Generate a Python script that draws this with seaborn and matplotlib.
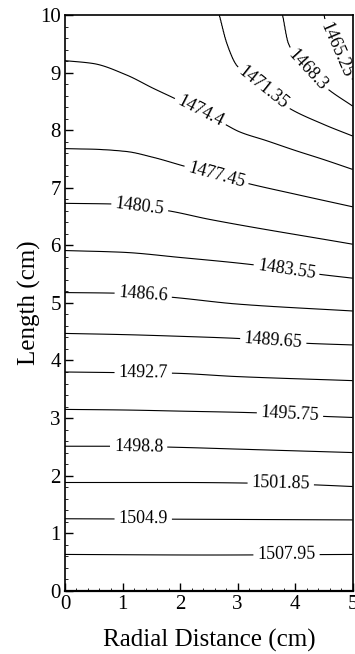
import numpy as np
import matplotlib
matplotlib.use("Agg")
import matplotlib.pyplot as plt
from matplotlib.ticker import MultipleLocator
import seaborn as sns

# ---- data ----
levels = [1465.25, 1468.3, 1471.35, 1474.4, 1477.45, 1480.5, 1483.55, 1486.6,
          1489.65, 1492.7, 1495.75, 1498.8, 1501.85, 1504.9, 1507.95]

# contour traces (radial distance x, length y) for each level
c1465_x = [4.50, 4.55, 4.69, 4.92, 5.0]
c1465_y = [10.0, 9.80, 9.45, 8.96, 8.88]
c1468_x = [3.78, 3.88, 4.20, 4.55, 5.0]
c1468_y = [10.0, 9.51, 9.07, 8.73, 8.42]
c1471_x = [2.68, 2.81, 2.98, 3.45, 3.85, 4.5, 5.0]
c1471_y = [10.0, 9.51, 9.13, 8.73, 8.41, 8.10, 7.90]
c1474_x = [0, 0.49, 1.07, 1.53, 1.91, 2.75, 3.04, 3.5, 4, 4.5, 5]
c1474_y = [9.21, 9.16, 8.96, 8.73, 8.55, 8.12, 7.97, 7.82, 7.65, 7.49, 7.32]
c1477_x = [0, 0.49, 1.07, 1.53, 2.06, 3.16, 4, 5]
c1477_y = [7.68, 7.67, 7.63, 7.53, 7.38, 7.08, 6.89, 6.67]
c1480_x = [0, 0.78, 1.74, 2.52, 5]
c1480_y = [6.73, 6.72, 6.61, 6.45, 6.02]
c1483_x = [0, 1, 2, 3.30, 4.40, 5]
c1483_y = [5.91, 5.88, 5.79, 5.66, 5.50, 5.43]
c1486_x = [0, 0.88, 1.84, 3, 5]
c1486_y = [5.18, 5.17, 5.10, 4.98, 4.86]
c1489_x = [0, 1, 2, 3.07, 4.17, 5]
c1489_y = [4.47, 4.45, 4.42, 4.38, 4.30, 4.27]
c1492_x = [0, 0.88, 1.84, 3, 5]
c1492_y = [3.80, 3.79, 3.78, 3.72, 3.65]
c1495_x = [0, 1, 2, 3.36, 4.46, 5]
c1495_y = [3.15, 3.14, 3.12, 3.09, 3.03, 3.01]
c1498_x = [0, 1, 2, 3, 5]
c1498_y = [2.51, 2.51, 2.49, 2.46, 2.40]
c1501_x = [0, 1, 2, 3.19, 4.3, 5]
c1501_y = [1.88, 1.88, 1.88, 1.87, 1.84, 1.81]
c1504_x = [0, 2.5, 5]
c1504_y = [1.25, 1.24, 1.23]
c1507_x = [0, 2.5, 5]
c1507_y = [0.63, 0.62, 0.63]

traces = [(c1465_x, c1465_y), (c1468_x, c1468_y), (c1471_x, c1471_y),
          (c1474_x, c1474_y), (c1477_x, c1477_y), (c1480_x, c1480_y),
          (c1483_x, c1483_y), (c1486_x, c1486_y), (c1489_x, c1489_y),
          (c1492_x, c1492_y), (c1495_x, c1495_y), (c1498_x, c1498_y),
          (c1501_x, c1501_y), (c1504_x, c1504_y), (c1507_x, c1507_y)]

# field values along the top edge (y = 10) and bottom edge (y = 0)
top_x = [0, 1, 2, 2.68, 3.78, 4.50, 5.0]
top_z = [1472.8, 1472.6, 1472.1, 1471.35, 1468.3, 1465.25, 1463.5]
bottom_z = 1511.0

x_ticks = [0, 1, 2, 3, 4, 5]
y_ticks = [0, 1, 2, 3, 4, 5, 6, 7, 8, 9, 10]

# label anchor positions (layout)
label_pos = [(4.72, 9.40), (4.22, 9.05), (3.45, 8.73), (2.35, 8.32), (2.64, 7.25),
             (1.30, 6.67), (3.85, 5.58), (1.36, 5.14), (3.62, 4.34), (1.36, 3.79),
             (3.91, 3.06), (1.28, 2.50), (3.75, 1.86), (1.36, 1.24), (3.85, 0.62)]


def pchip(xp, yp, x):
    """Monotone cubic Hermite interpolation (Fritsch-Carlson)."""
    xp = np.asarray(xp, float)
    yp = np.asarray(yp, float)
    x = np.asarray(x, float)
    if len(xp) == 2:
        return np.interp(x, xp, yp)
    h = np.diff(xp)
    d = np.diff(yp) / h
    m = np.zeros_like(yp)
    for k in range(1, len(xp) - 1):
        if d[k - 1] * d[k] <= 0:
            m[k] = 0.0
        else:
            w1 = 2 * h[k] + h[k - 1]
            w2 = h[k] + 2 * h[k - 1]
            m[k] = (w1 + w2) / (w1 / d[k - 1] + w2 / d[k])
    m[0] = d[0]
    m[-1] = d[-1]
    idx = np.clip(np.searchsorted(xp, x) - 1, 0, len(xp) - 2)
    t = (x - xp[idx]) / h[idx]
    h00 = 2 * t**3 - 3 * t**2 + 1
    h10 = t**3 - 2 * t**2 + t
    h01 = -2 * t**3 + 3 * t**2
    h11 = t**3 - t**2
    return (h00 * yp[idx] + h10 * h[idx] * m[idx]
            + h01 * yp[idx + 1] + h11 * h[idx] * m[idx + 1])


# ---- build the scalar field column by column ----
xg = np.linspace(0, 5, 401)
yg = np.linspace(0, 10, 801)
Z = np.empty((len(yg), len(xg)))
top_vals = pchip(top_x, top_z, xg)
for j, xi in enumerate(xg):
    ys = [0.0]
    zs = [bottom_z]
    for lv, (cx, cy) in zip(levels, traces):
        if cx[0] - 1e-9 <= xi <= cx[-1] + 1e-9:
            yy = float(pchip(cx, cy, xi))
            if yy < 9.999:
                ys.append(yy)
                zs.append(lv)
    ys.append(10.0)
    zs.append(float(top_vals[j]))
    ys = np.array(ys)
    zs = np.array(zs)
    o = np.argsort(ys)
    Z[:, j] = np.interp(yg, ys[o], zs[o])

# ---- plot ----
sns.set_theme(style="ticks")
plt.rcParams['font.family'] = ['Liberation Serif', 'DejaVu Serif']
plt.rcParams['axes.edgecolor'] = 'black'

fig = plt.figure(figsize=(3.55, 6.54), dpi=100)
ax = fig.add_axes([0.183, 0.0968, 0.8105, 0.880])

cs = ax.contour(xg, yg, Z, levels=levels, colors='black', linewidths=0.8)
fmt = {lv: f"{lv:g}" for lv in cs.levels}
ax.clabel(cs, cs.levels, manual=label_pos, inline=True, inline_spacing=4,
          fmt=fmt, fontsize=13)

ax.set_xlim(0, 5)
ax.set_ylim(0, 10)
ax.set_xticks(x_ticks)
ax.set_yticks(y_ticks)
ax.xaxis.set_minor_locator(MultipleLocator(0.2))
ax.yaxis.set_minor_locator(MultipleLocator(0.2))
ax.tick_params(which='both', direction='in', top=False, right=False, colors='black')
ax.tick_params(which='major', length=6, width=1, labelsize=15, pad=3)
ax.tick_params(which='minor', length=2.5, width=0.6)
for s in ax.spines.values():
    s.set_visible(True)
    s.set_linewidth(1.2)
    s.set_color('black')
ax.spines['bottom'].set_linewidth(1.6)

ax.set_xlabel("Radial Distance (cm)", fontsize=18, labelpad=11, color='black')
ax.set_ylabel("Length (cm)", fontsize=18, labelpad=-1, color='black')

fig.savefig("out.png", dpi=100)
